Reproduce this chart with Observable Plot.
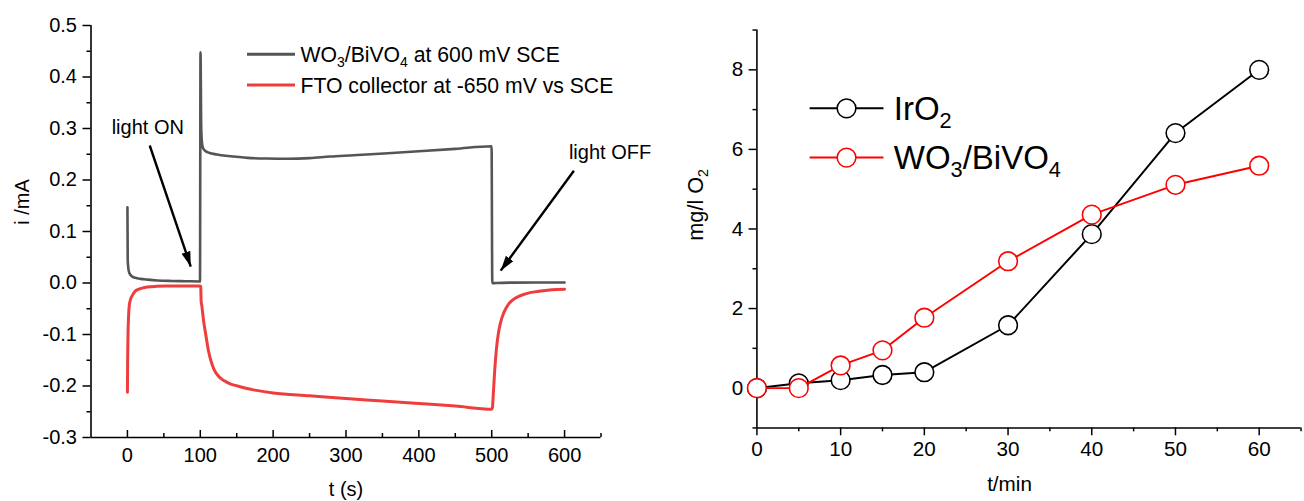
<!DOCTYPE html>
<html>
<head>
<meta charset="utf-8">
<script src="https://cdn.jsdelivr.net/npm/d3@7"></script>
<script src="https://cdn.jsdelivr.net/npm/@observablehq/plot@0.6"></script>
<style>
  html, body { margin: 0; padding: 0; background: #fff; overflow: hidden; }
  #wrap { position: relative; width: 1304px; height: 501px; overflow: hidden; }
  #left { position: absolute; left: 0; top: 0; }
  #right { position: absolute; left: 654px; top: 0; }
  svg text { white-space: pre; }
</style>
</head>
<body>
<div id="wrap"><div id="left"></div><div id="right"></div></div>
<script>
// ---- Left: chronoamperometry with light ON / OFF ----
// WO3/BiVO4 photoanode held at 600 mV vs SCE
const anodeTime = [0, 0.4, 1.2, 2.3, 4, 6.8, 11, 18, 28, 41, 60, 80, 99.6,
  100.3, 101.3, 102.5, 104.5, 109.7, 123, 135, 146, 165, 191, 220, 250, 278, 310, 346, 400, 450, 499.8,
  500.8, 506, 530, 560, 600];
const anodeCurrent = [0.147, 0.045, 0.029, 0.021, 0.016, 0.0125, 0.010, 0.008, 0.0065, 0.005, 0.004, 0.0035, 0.003,
  0.448, 0.30, 0.27, 0.26, 0.254, 0.2495, 0.247, 0.2456, 0.243, 0.2417, 0.2413, 0.2425, 0.2455, 0.248, 0.251, 0.2557, 0.2605, 0.2655,
  -0.0005, 0.0, 0.0008, 0.001, 0.001];

// FTO collector held at -650 mV vs SCE
const collectorTime = [0, 0.3, 0.8, 1.5, 2.3, 4, 6.8, 10, 13.7, 20, 27.3, 40, 55, 75, 99.8,
  100.6, 101.2, 102, 103, 104.7, 107.4, 111, 115, 119, 125, 133, 141, 151, 164, 175, 200, 250, 300, 350, 400, 450, 500,
  501, 502.2, 504.1, 506.3, 509, 512.3, 516.8, 523.6, 532.8, 546.4, 564.6, 582.8, 600];
const collectorCurrent = [-0.212, -0.15, -0.10, -0.068, -0.047, -0.033, -0.024, -0.017, -0.013, -0.010, -0.0078, -0.0065, -0.006, -0.0058, -0.0058,
  -0.007, -0.036, -0.043, -0.055, -0.075, -0.099, -0.13, -0.153, -0.168, -0.181, -0.19, -0.196, -0.2, -0.205, -0.208, -0.2135, -0.219, -0.2245, -0.229, -0.234, -0.239, -0.245,
  -0.242, -0.215, -0.170, -0.131, -0.099, -0.076, -0.057, -0.040, -0.029, -0.021, -0.016, -0.013, -0.012];

const currentTicks = [-0.3, -0.2, -0.1, 0, 0.1, 0.2, 0.3, 0.4, 0.5];
const currentMinorTicks = [-0.25, -0.15, -0.05, 0.05, 0.15, 0.25, 0.35, 0.45];
const secondTicks = [0, 100, 200, 300, 400, 500, 600];
const secondMinorTicks = [50, 150, 250, 350, 450, 550, 650];

// annotations (text anchor and arrow ends in data units)
const noteLabels = ["light ON", "light OFF"];
const noteT = [27.9, 662.4];
const noteI = [0.29, 0.24];
const arrowT1 = [30.6, 612.8];
const arrowI1 = [0.267, 0.218];
const arrowT2 = [86.9, 512.3];
const arrowI2 = [0.032, 0.024];

// ---- Right: dissolved O2 evolution ----
const minutes = [0, 5, 10, 15, 20, 30, 40, 50, 60];
const iro2 = [0, 0.12, 0.2, 0.33, 0.4, 1.58, 3.87, 6.41, 8.0];
const wo3bivo4 = [0, 0.0, 0.57, 0.95, 1.77, 3.19, 4.36, 5.11, 5.59];
const o2Ticks = [0, 2, 4, 6, 8];
const o2MinorTicks = [-1, 1, 3, 5, 7, 9];
const minuteTicks = [0, 10, 20, 30, 40, 50, 60];
const minuteMinorTicks = [5, 15, 25, 35, 45, 55, 65];

// text pieces; a second element of 1 marks a subscript
const anodeName = [["WO"], ["3", 1], ["/BiVO"], ["4", 1], [" at 600 mV SCE"]];
const collectorName = [["FTO collector at -650 mV vs SCE"]];
const iro2Name = [["IrO"], ["2", 1]];
const wo3Name = [["WO"], ["3", 1], ["/BiVO"], ["4", 1]];
const o2Title = [["mg/l O"], ["2", 1]];

const FONT = "'Liberation Sans', Arial, Helvetica, sans-serif";
const GRAY = "#555555";
const LIGHTRED = "#ef3d3d";

function rich(textSel, parts, size) {
  const shift = size * 0.24;
  let down = false;
  parts.forEach(([s, sub]) => {
    const t = textSel.append("tspan").text(s);
    if (sub) {
      t.attr("font-size", size * 0.66).attr("dy", shift);
      down = true;
    } else if (down) {
      t.attr("dy", -shift);
      down = false;
    }
  });
  return textSel;
}

// ----- left chart -----
const anode = anodeTime.map((t, k) => ({t, i: anodeCurrent[k]}));
const collector = collectorTime.map((t, k) => ({t, i: collectorCurrent[k]}));
const notes = noteLabels.map((label, k) => ({label, t: noteT[k], i: noteI[k]}));
const arrows = arrowT1.map((t1, k) => ({t1, i1: arrowI1[k], t2: arrowT2[k], i2: arrowI2[k]}));

const left = Plot.plot({
  width: 650, height: 501,
  marginLeft: 90.5, marginRight: 49.5, marginTop: 25, marginBottom: 64,
  x: {domain: [-50, 650]},
  y: {domain: [-0.3, 0.5]},
  style: {fontFamily: FONT, fontSize: "20px", color: "#000", background: "transparent", overflow: "visible"},
  marks: [
    Plot.axisY(currentTicks, {tickSize: 8, tickPadding: 6, tickFormat: d => d.toFixed(1), label: null, strokeWidth: 1.5, fontSize: 20}),
    Plot.axisY(currentMinorTicks, {tickSize: 4, text: null, label: null, strokeWidth: 1.5}),
    Plot.axisX(secondTicks, {tickSize: 7, dy: -7, text: null, label: null, strokeWidth: 1.5}),
    Plot.axisX(secondMinorTicks, {tickSize: 4, dy: -4, text: null, label: null, strokeWidth: 1.5}),
    Plot.axisX(secondTicks, {tickSize: 0, tickPadding: 10, label: null, fontSize: 20}),
    Plot.ruleX([-50], {stroke: "#000", strokeWidth: 1.6}),
    Plot.ruleY([-0.3], {stroke: "#000", strokeWidth: 1.6}),
    Plot.line(collector, {x: "t", y: "i", stroke: LIGHTRED, strokeWidth: 3, curve: "monotone-x"}),
    Plot.line(anode, {x: "t", y: "i", stroke: GRAY, strokeWidth: 2.6, curve: "monotone-x"}),
    Plot.link(arrows, {x1: "t1", y1: "i1", x2: "t2", y2: "i2", stroke: "#000", strokeWidth: 2.4, className: "note-arrow"}),
    Plot.text(notes, {x: "t", y: "i", text: "label", lineAnchor: "bottom", fontSize: 20, fill: "#000"})
  ]
});
document.getElementById("left").appendChild(left);

{
  const svg = d3.select(left);
  const marker = svg.append("defs").append("marker")
    .attr("id", "arrowhead").attr("viewBox", "0 -5 15 10")
    .attr("refX", 15).attr("refY", 0)
    .attr("markerWidth", 15).attr("markerHeight", 10)
    .attr("markerUnits", "userSpaceOnUse").attr("orient", "auto");
  marker.append("path").attr("d", "M0,-4.6L15,0L0,4.6Z").attr("fill", "#000");
  svg.selectAll(".note-arrow path, .note-arrow line").attr("marker-end", "url(#arrowhead)");

  const g = svg.append("g").attr("font-family", FONT).attr("fill", "#000").attr("text-anchor", "start");
  // legend
  [[anodeName, GRAY, 54.3], [collectorName, LIGHTRED, 85]].forEach(([parts, color, y]) => {
    g.append("line").attr("x1", 247).attr("x2", 295).attr("y1", y).attr("y2", y)
      .attr("stroke", color).attr("stroke-width", 3);
    rich(g.append("text").attr("x", 300.5).attr("y", y + 7.8).attr("font-size", 21.2), parts, 21.2);
  });
  // axis titles
  g.append("text").attr("x", 346).attr("y", 496).attr("text-anchor", "middle").attr("font-size", 20).text("t (s)");
  g.append("text").attr("transform", "translate(28.5,202) rotate(-90)").attr("text-anchor", "middle")
    .attr("font-size", 20).text("i /mA");
}

// ----- right chart -----
const iro2Rows = minutes.map((m, k) => ({m, v: iro2[k]}));
const wo3Rows = minutes.map((m, k) => ({m, v: wo3bivo4[k]}));

const right = Plot.plot({
  width: 660, height: 501,
  marginLeft: 104, marginRight: 3.5, marginTop: 30, marginBottom: 67,
  x: {domain: [0, 65]},
  y: {domain: [-1, 9]},
  style: {fontFamily: FONT, fontSize: "21px", color: "#000", background: "transparent", overflow: "visible"},
  marks: [
    Plot.axisY(o2Ticks, {tickSize: 8, tickPadding: 6, label: null, strokeWidth: 1.5, fontSize: 21}),
    Plot.axisY(o2MinorTicks, {tickSize: 4, text: null, label: null, strokeWidth: 1.5}),
    Plot.axisX(minuteTicks, {tickSize: 8, tickPadding: 6, label: null, strokeWidth: 1.5, fontSize: 21}),
    Plot.axisX(minuteMinorTicks, {tickSize: 4, text: null, label: null, strokeWidth: 1.5}),
    Plot.ruleX([0], {stroke: "#000", strokeWidth: 1.6}),
    Plot.ruleY([-1], {stroke: "#000", strokeWidth: 1.6}),
    Plot.line(iro2Rows, {x: "m", y: "v", stroke: "#000", strokeWidth: 2}),
    Plot.dot(iro2Rows, {x: "m", y: "v", r: 9.5, fill: "#fff", stroke: "#000", strokeWidth: 1.6}),
    Plot.line(wo3Rows, {x: "m", y: "v", stroke: "#ff0000", strokeWidth: 2}),
    Plot.dot(wo3Rows, {x: "m", y: "v", r: 9.5, fill: "#fff", stroke: "#ff0000", strokeWidth: 1.6})
  ]
});
document.getElementById("right").appendChild(right);

{
  const svg = d3.select(right);
  const g = svg.append("g").attr("font-family", FONT).attr("fill", "#000").attr("text-anchor", "start");
  [[iro2Name, "#000", 110], [wo3Name, "#ff0000", 160]].forEach(([parts, color, y]) => {
    g.append("line").attr("x1", 158).attr("x2", 233).attr("y1", y).attr("y2", y)
      .attr("stroke", color).attr("stroke-width", 2);
    g.append("circle").attr("cx", 195.5).attr("cy", y).attr("r", 9.5)
      .attr("fill", "#fff").attr("stroke", color).attr("stroke-width", 1.6);
    rich(g.append("text").attr("x", 243.5).attr("y", y + 11.5).attr("font-size", 33.5), parts, 33.5);
  });
  g.append("text").attr("x", 361).attr("y", 499).attr("text-anchor", "middle").attr("font-size", 21).text("t/min");
  rich(g.append("text").attr("transform", "translate(50,208) rotate(-90)").attr("text-anchor", "middle")
    .attr("font-size", 22), o2Title, 22);
}
</script>
</body>
</html>
